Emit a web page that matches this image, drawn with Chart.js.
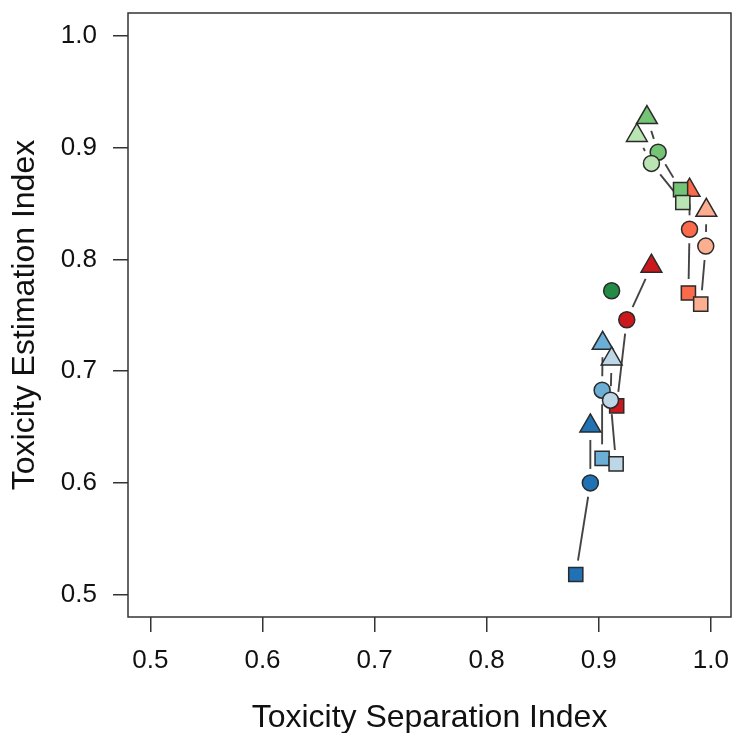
<!DOCTYPE html>
<html>
<head>
<meta charset="utf-8">
<script src="https://cdn.jsdelivr.net/npm/chart.js@4/dist/chart.umd.min.js"></script>
<style>
  html, body { margin: 0; padding: 0; overflow: hidden; background: #fff; }
  #wrap { width: 732px; height: 733px; }
</style>
</head>
<body>
<div id="wrap"><canvas id="tox-chart"></canvas></div>
<script>
// axis ticks
const xTicks = [0.5, 0.6, 0.7, 0.8, 0.9, 1.0];
const yTicks = [0.5, 0.6, 0.7, 0.8, 0.9, 1.0];

// each group: triangle, circle, square (separation index / estimation index)
const darkRedSep = [0.947, 0.925, 0.916];
const darkRedEst = [0.794, 0.746, 0.669];
const midRedSep = [0.981, 0.981, 0.980];
const midRedEst = [0.862, 0.827, 0.770];
const lightRedSep = [0.996, 0.9955, 0.991];
const lightRedEst = [0.844, 0.812, 0.760];

const darkGreenSep = [null, 0.9115, null];
const darkGreenEst = [null, 0.772, null];
const midGreenSep = [0.943, 0.953, 0.973];
const midGreenEst = [0.927, 0.896, 0.8625];
const lightGreenSep = [0.934, 0.947, 0.975];
const lightGreenEst = [0.911, 0.886, 0.851];

const darkBlueSep = [0.8925, 0.8925, 0.8795];
const darkBlueEst = [0.651, 0.600, 0.518];
const midBlueSep = [0.9035, 0.903, 0.903];
const midBlueEst = [0.725, 0.683, 0.622];
const lightBlueSep = [0.9115, 0.9105, 0.9155];
const lightBlueEst = [0.711, 0.674, 0.617];

const markerShapes = ["triangle", "circle", "rect"];
const markerSizes = [12, 8, 10];

// back to front
const groups = [
  { sep: darkRedSep, est: darkRedEst, color: "#CB181D" },
  { sep: midRedSep, est: midRedEst, color: "#FB6A4A" },
  { sep: lightRedSep, est: lightRedEst, color: "#FCAE91" },
  { sep: darkGreenSep, est: darkGreenEst, color: "#238B45" },
  { sep: midGreenSep, est: midGreenEst, color: "#74C476" },
  { sep: lightGreenSep, est: lightGreenEst, color: "#BAE4B3" },
  { sep: darkBlueSep, est: darkBlueEst, color: "#2171B5" },
  { sep: midBlueSep, est: midBlueEst, color: "#6BAED6" },
  { sep: lightBlueSep, est: lightBlueEst, color: "#BDD7E7" },
];

const GAP = 14;
const FONT = "'Liberation Sans', Arial, sans-serif";

// R style type="b" lines: segments with a gap around each point
const gapLines = {
  id: "gapLines",
  beforeDatasetsDraw(chart) {
    const ctx = chart.ctx;
    ctx.save();
    ctx.strokeStyle = "#444";
    ctx.lineWidth = 1.9;
    chart.data.datasets.forEach((ds, i) => {
      const meta = chart.getDatasetMeta(i);
      const pts = meta.data.filter((p, j) => ds.data[j].x !== null);
      for (let k = 0; k < pts.length - 1; k++) {
        const a = pts[k];
        const b = pts[k + 1];
        const dx = b.x - a.x;
        const dy = b.y - a.y;
        const len = Math.hypot(dx, dy);
        if (len <= 2 * GAP) continue;
        const ux = dx / len;
        const uy = dy / len;
        ctx.beginPath();
        ctx.moveTo(a.x + ux * GAP, a.y + uy * GAP);
        ctx.lineTo(b.x - ux * GAP, b.y - uy * GAP);
        ctx.stroke();
      }
    });
    ctx.restore();
  },
};

// full box round the plot region
const plotBox = {
  id: "plotBox",
  afterDraw(chart) {
    const { left, top, right, bottom } = chart.chartArea;
    const ctx = chart.ctx;
    ctx.save();
    ctx.strokeStyle = "#333";
    ctx.lineWidth = 1.5;
    ctx.strokeRect(left, top, right - left, bottom - top);
    ctx.restore();
  },
};

const datasets = groups.map((g, i) => ({
  data: g.sep.map((x, j) => ({ x: x, y: g.est[j] })),
  backgroundColor: g.color,
  borderColor: "#2a2a2a",
  borderWidth: 1.5,
  pointStyle: markerShapes,
  pointRadius: markerSizes,
  pointHoverRadius: markerSizes,
  order: groups.length - i,
}));

const ctx = document.getElementById("tox-chart").getContext("2d");
new Chart(ctx, {
  type: "scatter",
  data: { datasets: datasets },
  plugins: [gapLines, plotBox],
  options: {
    responsive: true,
    maintainAspectRatio: false,
    animation: false,
    layout: {
      autoPadding: false,
      padding: { top: 13, right: 1, left: 0, bottom: 0 },
    },
    plugins: {
      legend: { display: false },
      tooltip: { enabled: false },
    },
    scales: {
      x: {
        type: "linear",
        min: 0.48,
        max: 1.018,
        afterBuildTicks: (axis) => {
          axis.ticks = xTicks.map((v) => ({ value: v }));
        },
        afterFit: (axis) => {
          axis.height = 116;
          axis.paddingLeft = 0;
          axis.paddingRight = 0;
        },
        border: { display: false },
        grid: {
          drawOnChartArea: false,
          tickLength: 15,
          tickColor: "#333",
          lineWidth: 1.5,
        },
        ticks: {
          padding: 13,
          color: "#111",
          maxRotation: 0,
          font: { family: FONT, size: 26 },
          callback: (v) => Number(v).toFixed(1),
        },
        title: {
          display: true,
          text: "Toxicity Separation Index",
          color: "#111",
          font: { family: FONT, size: 32, lineHeight: 0.95 },
          padding: { top: 0, bottom: 0 },
        },
      },
      y: {
        type: "linear",
        min: 0.48,
        max: 1.0206,
        afterBuildTicks: (axis) => {
          axis.ticks = yTicks.map((v) => ({ value: v }));
        },
        afterFit: (axis) => {
          axis.width = 128;
          axis.paddingTop = 0;
          axis.paddingBottom = 0;
        },
        border: { display: false },
        grid: {
          drawOnChartArea: false,
          tickLength: 15,
          tickColor: "#333",
          lineWidth: 1.5,
        },
        ticks: {
          padding: 16,
          color: "#111",
          font: { family: FONT, size: 26 },
          callback: (v) => Number(v).toFixed(1),
        },
        title: {
          display: true,
          text: "Toxicity Estimation Index",
          color: "#111",
          font: { family: FONT, size: 32, lineHeight: 0.95 },
          padding: { top: 10, bottom: 0 },
        },
      },
    },
  },
});
</script>
</body>
</html>
